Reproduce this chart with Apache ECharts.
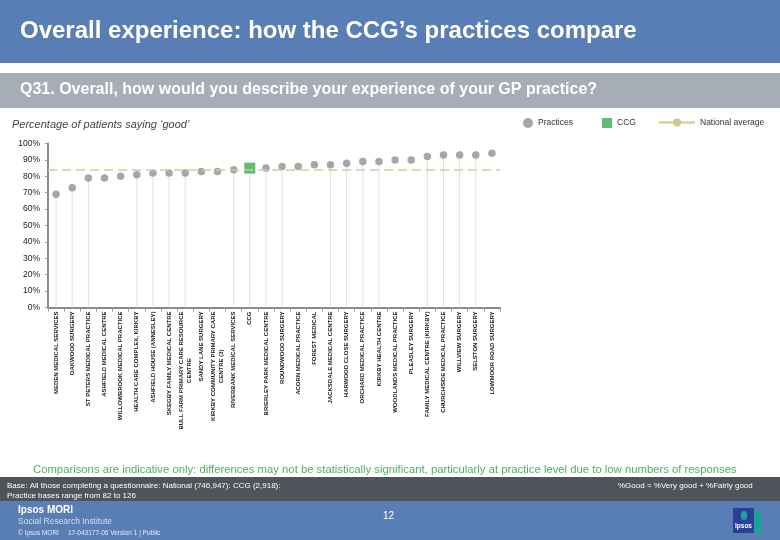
<!DOCTYPE html>
<html>
<head>
<meta charset="utf-8">
<script src="https://cdn.jsdelivr.net/npm/echarts@6/dist/echarts.min.js"></script>
<style>
html,body{margin:0;padding:0;background:#ffffff;}
#chart{width:780px;height:540px;}
</style>
</head>
<body>
<div id="chart"></div>
<script>
// ---------- data ----------
const categories = [
  'MEDEN MEDICAL SERVICES',
  'OAKWOOD SURGERY',
  'ST PETERS MEDICAL PRACTICE',
  'ASHFIELD MEDICAL CENTRE',
  'WILLOWBROOK MEDICAL PRACTICE',
  'HEALTH CARE COMPLEX, KIRKBY',
  'ASHFIELD HOUSE (ANNESLEY)',
  'SKEGBY FAMILY MEDICAL CENTRE',
  'BULL FARM PRIMARY CARE RESOURCE\nCENTRE',
  'SANDY LANE SURGERY',
  'KIRKBY COMMUNITY PRIMARY CARE\nCENTRE (3)',
  'RIVERBANK MEDICAL SERVICES',
  'CCG',
  'BRIERLEY PARK MEDICAL CENTRE',
  'ROUNDWOOD SURGERY',
  'ACORN MEDICAL PRACTICE',
  'FOREST MEDICAL',
  'JACKSDALE MEDICAL CENTRE',
  'HARWOOD CLOSE SURGERY',
  'ORCHARD MEDICAL PRACTICE',
  'KIRKBY HEALTH CENTRE',
  'WOODLANDS MEDICAL PRACTICE',
  'PLEASLEY SURGERY',
  'FAMILY MEDICAL CENTRE (KIRKBY)',
  'CHURCHSIDE MEDICAL PRACTICE',
  'WILLVIEW SURGERY',
  'SELSTON SURGERY',
  'LOWMOOR ROAD SURGERY'
];
const goodPercent = [69, 73, 79, 79, 80, 81, 82, 82, 82, 83, 83, 84, 85, 85, 86, 86, 87, 87, 88, 89, 89, 90, 90, 92, 93, 93, 93, 94];
const dropLineShown = [1,1,1,0,0,1,1,1,1,0,0,1,1,1,1,0,0,1,1,1,1,0,0,1,1,1,1,0];
const ccgLabel = 'CCG';
const nationalAverage = 84;

// ---------- derived series data ----------
const practiceData = goodPercent.map((v, i) => categories[i] === ccgLabel ? '-' : v);
const ccgData = goodPercent.map((v, i) => categories[i] === ccgLabel ? v : '-');
const dropData = goodPercent.map((v, i) => dropLineShown[i] ? v : '-');

const FONT = '"Liberation Sans", Arial, sans-serif';

const chart = echarts.init(document.getElementById('chart'), null, {renderer: 'canvas'});

const option = {
  backgroundColor: '#ffffff',
  animation: false,
  textStyle: {fontFamily: FONT},
  grid: {left: 48, top: 143.5, width: 452, height: 164, containLabel: false},
  legend: [
    {
      data: ['Practices'], left: 523, top: 118, icon: 'circle',
      itemWidth: 10, itemHeight: 10, itemGap: 0, padding: 0,
      textStyle: {fontSize: 8.5, color: '#333', fontFamily: FONT}
    },
    {
      data: ['CCG'], left: 602, top: 118, icon: 'rect',
      itemWidth: 10, itemHeight: 10, itemGap: 0, padding: 0,
      textStyle: {fontSize: 8.5, color: '#333', fontFamily: FONT}
    },
    {
      data: ['National average'], left: 658, top: 118,
      itemWidth: 36, itemHeight: 10, itemGap: 0, padding: 0,
      textStyle: {fontSize: 8.5, color: '#333', fontFamily: FONT}
    }
  ],
  xAxis: {
    type: 'category',
    data: categories,
    boundaryGap: true,
    axisLine: {show: true, lineStyle: {color: '#8a8a8a', width: 2}},
    axisTick: {show: true, length: 4, lineStyle: {color: '#9a9a9a'}},
    splitLine: {show: false},
    axisLabel: {
      interval: 0,
      rotate: 90,
      margin: 4,
      formatter: function (v) {
        return v.split('\n').map((l, i) => (i === 0 ? '{a|' + l + '}' : '{b|' + l + '}')).join('\n');
      },
      rich: {
        a: {fontSize: 6, fontWeight: 'bold', color: '#1a1a1a', fontFamily: FONT, lineHeight: 8},
        b: {fontSize: 6, fontWeight: 'bold', color: '#1a1a1a', fontFamily: FONT, lineHeight: 8, align: 'center'}
      }
    }
  },
  yAxis: {
    type: 'value',
    min: 0, max: 100, interval: 10,
    axisLine: {show: true, lineStyle: {color: '#8a8a8a', width: 2}},
    axisTick: {show: true, length: 3, lineStyle: {color: '#9a9a9a'}},
    splitLine: {show: false},
    axisLabel: {formatter: '{value}%', fontSize: 8.5, color: '#222', margin: 8, fontFamily: FONT}
  },
  series: [
    {
      name: 'Drop lines',
      type: 'bar',
      data: dropData,
      barWidth: 1,
      itemStyle: {color: '#e0e0e0'},
      silent: true,
      z: 1
    },
    {
      name: 'National average',
      type: 'line',
      data: [],
      symbol: 'circle',
      symbolSize: 4,
      itemStyle: {color: '#cfc98c'},
      lineStyle: {color: '#cfc98c', width: 2},
      markLine: {
        silent: true,
        symbol: ['none', 'none'],
        label: {show: false},
        lineStyle: {color: '#d3cd94', width: 1.5, type: [9, 5]},
        data: [{yAxis: nationalAverage}]
      },
      z: 2
    },
    {
      name: 'Practices',
      type: 'scatter',
      data: practiceData,
      symbol: 'circle',
      symbolSize: 7.5,
      itemStyle: {color: '#8d9197'},
      z: 3
    },
    {
      name: 'CCG',
      type: 'scatter',
      data: ccgData,
      symbol: 'rect',
      symbolSize: 11,
      itemStyle: {color: '#3aab52'},
      z: 4
    }
  ],
  graphic: [
    {type: 'rect', left: 0, top: 0, shape: {width: 780, height: 63}, style: {fill: '#597db5'}, silent: true},
    {type: 'text', left: 20, top: 19, style: {text: 'Overall experience: how the CCG\u2019s practices compare', fill: '#ffffff', font: 'bold 24px ' + FONT}},
    {type: 'rect', left: 0, top: 73, shape: {width: 780, height: 35}, style: {fill: '#a6adb6'}, silent: true},
    {type: 'text', left: 20, top: 82, style: {text: 'Q31. Overall, how would you describe your experience of your GP practice?', fill: '#ffffff', font: 'bold 16px ' + FONT}},
    {type: 'text', left: 12, top: 119, style: {text: 'Percentage of patients saying \u2018good\u2019', fill: '#444444', font: 'italic 11px ' + FONT}},
    {type: 'text', left: 33, top: 464, style: {text: 'Comparisons are indicative only: differences may not be statistically significant, particularly at practice level due to low numbers of responses', fill: '#4fac67', font: '11.3px ' + FONT}},
    {type: 'rect', left: 0, top: 477, shape: {width: 780, height: 24}, style: {fill: '#4f545b'}, silent: true},
    {type: 'text', left: 7, top: 482, style: {text: 'Base: All those completing a questionnaire: National (746,947): CCG (2,918):', fill: '#ffffff', font: '8px ' + FONT}},
    {type: 'text', left: 7, top: 492, style: {text: 'Practice bases range from 82 to 126', fill: '#ffffff', font: '8px ' + FONT}},
    {type: 'text', left: 618, top: 482, style: {text: '%Good = %Very good + %Fairly good', fill: '#ffffff', font: '8px ' + FONT}},
    {type: 'rect', left: 0, top: 501, shape: {width: 780, height: 39}, style: {fill: '#597db5'}, silent: true},
    {type: 'text', left: 18, top: 505, style: {text: 'Ipsos MORI', fill: '#ffffff', font: 'bold 10px ' + FONT}},
    {type: 'text', left: 18, top: 517, style: {text: 'Social Research Institute', fill: '#d6deef', font: '8.5px ' + FONT}},
    {type: 'text', left: 18, top: 530, style: {text: '\u00a9 Ipsos MORI     17-043177-06 Version 1 | Public', fill: '#e6ebf5', font: '6.5px ' + FONT}},
    {type: 'text', left: 383, top: 511, style: {text: '12', fill: '#ffffff', font: '10px ' + FONT}},
    {type: 'rect', left: 752, top: 511, shape: {width: 9, height: 22}, style: {fill: '#16a59b'}, silent: true},
    {type: 'rect', left: 733, top: 508, shape: {width: 21, height: 25}, style: {fill: '#2d3f98'}, silent: true},
    {type: 'rect', left: 741, top: 511, shape: {width: 6, height: 9, r: 3}, style: {fill: '#16a59b'}, silent: true},
    {type: 'text', left: 735, top: 523, style: {text: 'Ipsos', fill: '#ffffff', font: 'bold 6.5px ' + FONT}}
  ]
};

chart.setOption(option);
</script>
</body>
</html>
